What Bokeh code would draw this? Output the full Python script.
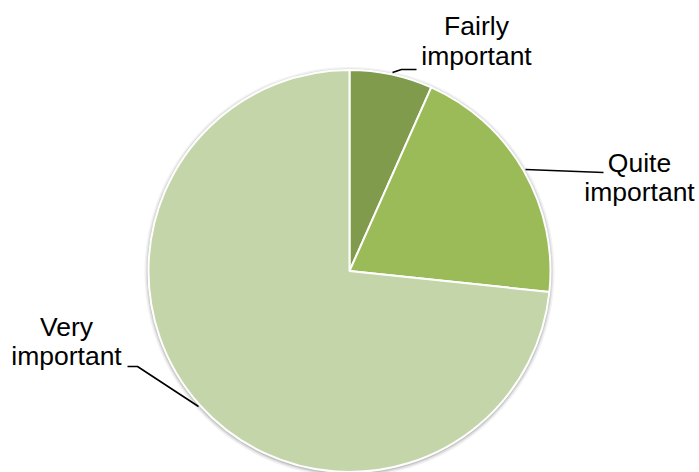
import numpy as np
from bokeh.plotting import figure
from bokeh.models import Range1d
from bokeh.core.properties import value
from bokeh.embed import file_html
from bokeh.resources import INLINE

# Data
categories = ["Fairly important", "Quite important", "Very important"]
counts = [2, 6, 22]
colors = ["#7F9B4B", "#9BBB59", "#C4D6A9"]

W, H = 699, 472
p = figure(width=W, height=H, output_backend="svg", toolbar_location=None,
           x_range=Range1d(0, W), y_range=Range1d(0, H), min_border=0)
p.axis.visible = False
p.grid.visible = False
p.outline_line_color = None
p.background_fill_color = "white"
p.border_fill_color = "white"

def Y(py):
    return H - py

cx, cy, r = 349, Y(270.5), 201

# soft shadow
for dr, a in [(4, 0.10), (2.5, 0.18), (1.2, 0.30)]:
    p.circle(x=cx, y=cy - 1, radius=r + dr, fill_color="#808080", fill_alpha=a, line_color=None)

vals = np.array(counts, dtype=float)
frac = vals / vals.sum()
ends = np.cumsum(frac) * 2 * np.pi
starts = ends - frac * 2 * np.pi
p.wedge(x=cx, y=cy, radius=r,
        start_angle=list(np.pi / 2 - starts), end_angle=list(np.pi / 2 - ends),
        direction="clock", fill_color=colors, line_color="white", line_width=2)

# leader lines
leaders = [
    ([392, 401, 416], [72, 69, 69]),
    ([525, 603], [169, 172]),
    ([198, 137, 127], [406, 366, 366]),
]
for xs, ys in leaders:
    p.line(xs, [Y(v) for v in ys], line_color="black", line_width=1.6)

# labels (two lines each)
shift = 10
label_pos = [(476, 35, 65), (639, 172.5, 201.5), (66, 336.5, 365)]
for cat, (lx, y1, y2) in zip(categories, label_pos):
    w1, w2 = cat.split(" ")
    p.text(x=[lx, lx], y=[Y(y1 - shift), Y(y2 - shift)], text=[w1, w2],
           text_font=value("Liberation Sans"), text_font_size="26.5px",
           text_align="center", text_baseline="alphabetic", text_color="black")

open("out.html", "w").write(file_html(p, INLINE))
